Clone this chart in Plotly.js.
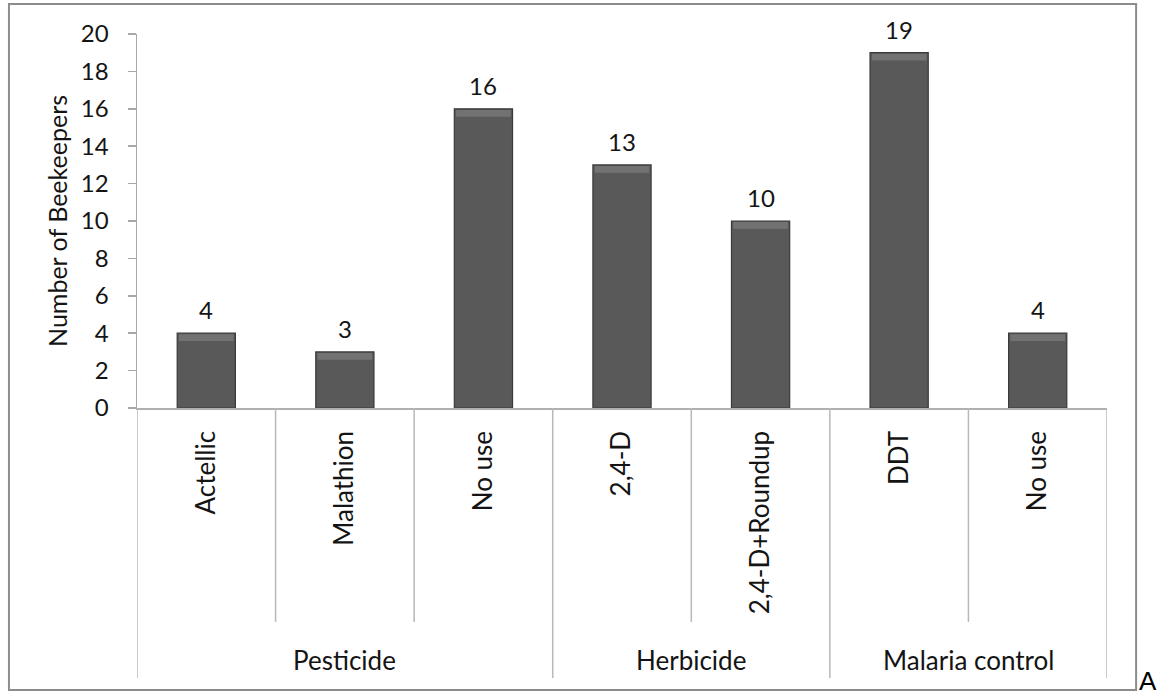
<!DOCTYPE html>
<html><head><meta charset="utf-8">
<script src="https://cdn.plot.ly/plotly-3.0.1.min.js"></script>
<style>html,body{margin:0;padding:0;background:#fff}#chart{width:1160px;height:695px}</style>
</head><body><div id="chart"></div>
<script>
var categories = ["Actellic", "Malathion", "No use", "2,4-D", "2,4-D+Roundup", "DDT", "No use"];
var groups = ["Pesticide", "Pesticide", "Pesticide", "Herbicide", "Herbicide", "Malaria control", "Malaria control"];
var values = [4, 3, 16, 13, 10, 19, 4];
var yTicks = [0, 2, 4, 6, 8, 10, 12, 14, 16, 18, 20];

var FONT = "Lato, 'Open Sans', sans-serif";
var FS = 24;
var FSL = 26;
var TXT = "#141414";
var idx = categories.map(function(_, i){ return i; });

var trace = {
  type: "bar", x: idx, y: values, width: 0.42,
  marker: {color: "#595959", line: {color: "#3a3a3a", width: 1.2}},
  hoverinfo: "skip"
};
var highlight = {
  type: "bar", x: idx, y: values.map(function(){ return 0.36; }), base: values.map(function(v){ return v - 0.42; }),
  width: 0.395, marker: {color: "#8c8c8c", line: {width: 0}}, opacity: 0.5, hoverinfo: "skip"
};

var shapes = [];
var annotations = [];
values.forEach(function(v, i){
  annotations.push({x: i, y: v, xref: "x", yref: "y", text: String(v), showarrow: false,
    yanchor: "bottom", yshift: 7, font: {family: FONT, size: FS, color: TXT}});
});
for (var b = 0; b <= categories.length; b++) {
  var isGroupEdge = (b === 0 || b === categories.length || groups[b] !== groups[b-1]);
  shapes.push({type: "line", xref: "x", yref: "paper", x0: b - 0.5, x1: b - 0.5,
    y0: 0, y1: isGroupEdge ? -0.722 : -0.572, line: {color: "#b8b8b8", width: 1.5}});
}
var seen = {};
groups.forEach(function(g, i){ if (!seen[g]) seen[g] = []; seen[g].push(i); });
Object.keys(seen).forEach(function(g){
  var ids = seen[g];
  var c = (ids[0] + ids[ids.length-1]) / 2;
  annotations.push({x: c, y: -0.675, xref: "x", yref: "paper", text: g, showarrow: false,
    yanchor: "middle", font: {family: FONT, size: FSL, color: TXT}});
});
shapes.push({type: "rect", xref: "paper", yref: "paper", x0: -0.132, x1: 1.03, y0: -0.754, y1: 1.08,
  line: {color: "#8c8c8c", width: 2}, layer: "below"});
annotations.push({x: 1.0425, y: -0.73, xref: "paper", yref: "paper", text: "A", showarrow: false,
  xanchor: "center", yanchor: "middle", font: {family: "Liberation Sans, Arial", size: 26, color: "#000"}});

var layout = {
  width: 1160, height: 695,
  margin: {l: 137, r: 53, t: 34, b: 287},
  paper_bgcolor: "#fff", plot_bgcolor: "#fff",
  showlegend: false, barmode: "overlay",
  font: {family: FONT, size: FS, color: TXT},
  xaxis: {
    range: [-0.5, categories.length - 0.5], tickvals: idx, ticktext: categories,
    tickangle: -90, ticks: "", showgrid: false, zeroline: false,
    showline: true, linecolor: "#b0b0b0", linewidth: 1.5,
    tickfont: {family: FONT, size: FSL, color: TXT}, ticklabelstandoff: 11,
    fixedrange: true
  },
  yaxis: {
    range: [0, 20], tickvals: yTicks, ticks: "outside", ticklen: 8, tickcolor: "#a8a8a8", tickwidth: 1.5,
    showline: true, linecolor: "#a8a8a8", linewidth: 1.5, showgrid: false, zeroline: false,
    tickfont: {family: FONT, size: FS, color: TXT}, ticklabelstandoff: 14,
    title: {text: "Number of Beekeepers", font: {family: FONT, size: 25, color: TXT}, standoff: 6},
    automargin: false, fixedrange: true
  },
  shapes: shapes, annotations: annotations
};
Plotly.newPlot("chart", [trace, highlight], layout, {displayModeBar: false, staticPlot: true});
</script></body></html>
